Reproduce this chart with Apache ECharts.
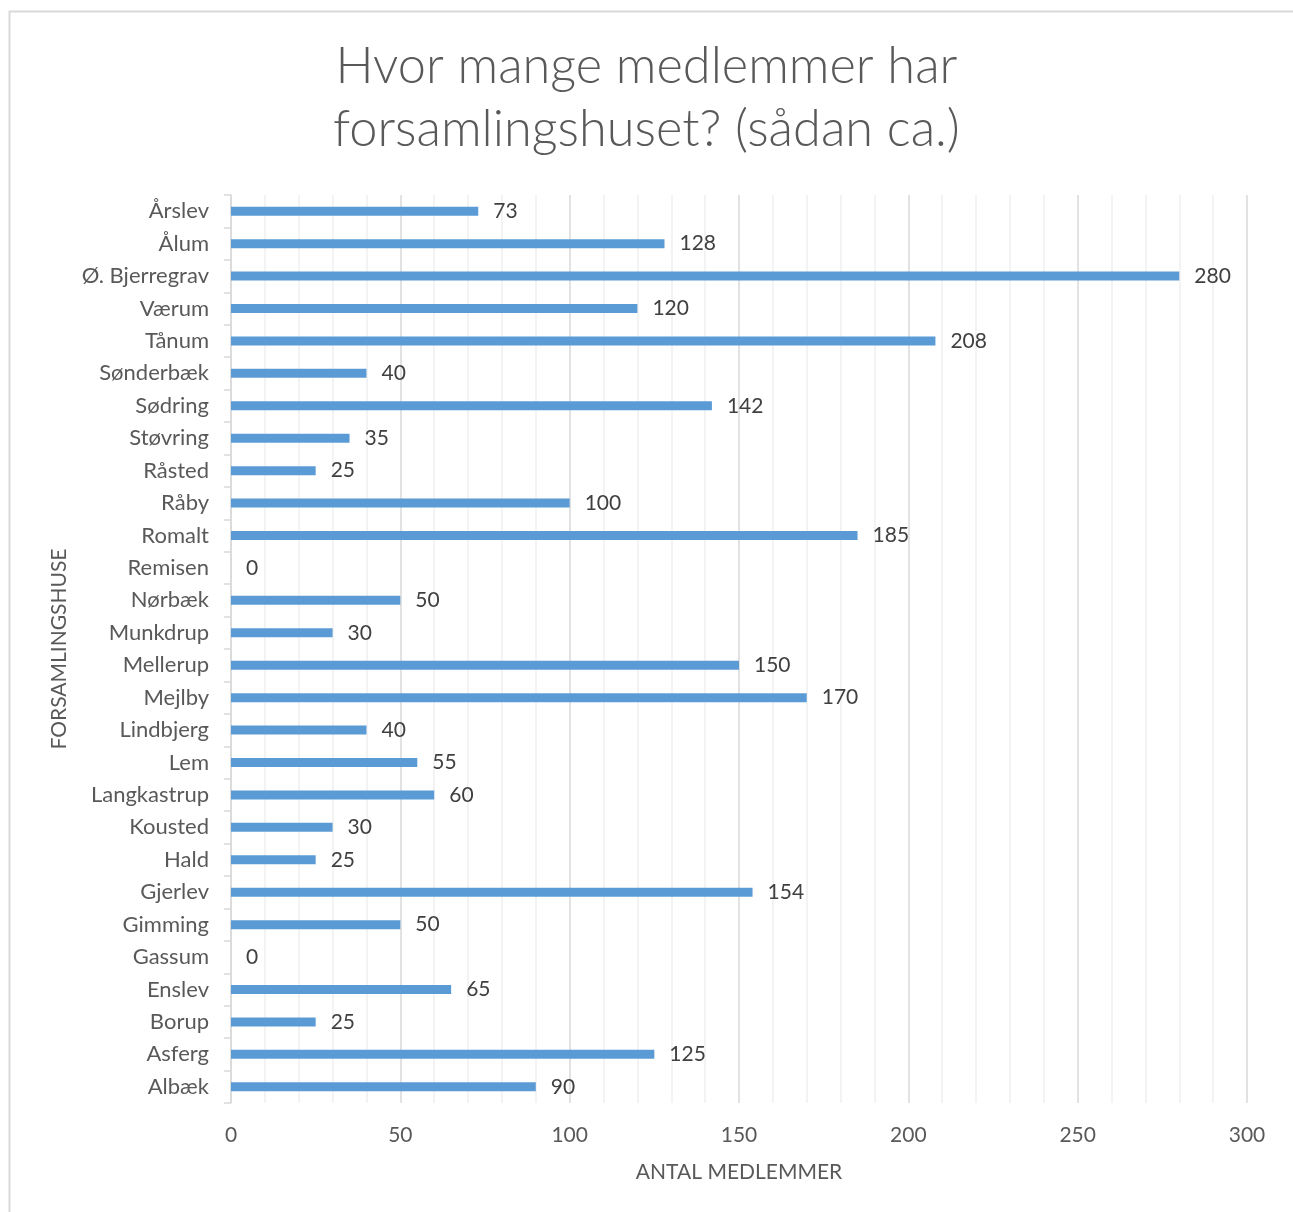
<!DOCTYPE html>
<html>
<head>
<meta charset="utf-8">
<script src="https://cdn.jsdelivr.net/npm/echarts@6/dist/echarts.min.js"></script>
<style>html,body{margin:0;padding:0;background:#fff;}#c{width:1293px;height:1212px;}</style>
</head>
<body>
<div id="c"></div>
<script>
const categories = ["Albæk","Asferg","Borup","Enslev","Gassum","Gimming","Gjerlev","Hald","Kousted","Langkastrup","Lem","Lindbjerg","Mejlby","Mellerup","Munkdrup","Nørbæk","Remisen","Romalt","Råby","Råsted","Støvring","Sødring","Sønderbæk","Tånum","Værum","Ø. Bjerregrav","Ålum","Årslev"];
const members = [90,125,25,65,0,50,154,25,30,60,55,40,170,150,30,50,0,185,100,25,35,142,40,208,120,280,128,73];
const titleText = "Hvor mange medlemmer har\nforsamlingshuset? (sådan ca.)";
const xAxisName = "ANTAL MEDLEMMER";
const yAxisName = "FORSAMLINGSHUSE";

const FONT = "Lato";
const TXT = "#595959";
const chart = echarts.init(document.getElementById('c'));
chart.setOption({
  animation: false,
  backgroundColor: '#fff',
  textStyle: {fontFamily: FONT},
  graphic: [{
    type: 'rect', silent: true,
    shape: {x: 9.5, y: 11.5, width: 3000, height: 3000},
    style: {fill: 'none', stroke: '#D9D9D9', lineWidth: 2}
  }],
  title: {
    text: titleText,
    left: 'center', top: 30,
    textStyle: {fontFamily: FONT, fontSize: 50.5, fontWeight: 300, color: TXT, lineHeight: 63}
  },
  grid: {left: 231, right: 46, top: 195, bottom: 109, containLabel: false},
  xAxis: {
    type: 'value', min: 0, max: 300, interval: 50,
    name: xAxisName, nameLocation: 'middle', nameGap: 59,
    nameTextStyle: {fontFamily: FONT, fontSize: 21, color: TXT},
    axisLine: {show: false}, axisTick: {show: false},
    axisLabel: {fontFamily: FONT, fontSize: 21, color: TXT, margin: 22},
    splitLine: {show: true, lineStyle: {color: '#D9D9D9', width: 1.5}},
    minorTick: {show: false, splitNumber: 5},
    minorSplitLine: {show: true, lineStyle: {color: '#F0F0F0', width: 1.5}}
  },
  yAxis: {
    type: 'category', data: categories,
    name: yAxisName, nameLocation: 'middle', nameGap: 161, nameRotate: 90,
    nameTextStyle: {fontFamily: FONT, fontSize: 21, color: TXT},
    axisLine: {show: true, lineStyle: {color: '#D9D9D9', width: 1.5}},
    axisTick: {show: true, length: 7, lineStyle: {color: '#D9D9D9', width: 1.5}},
    axisLabel: {fontFamily: FONT, fontSize: 22, color: TXT, margin: 22},
    splitLine: {show: false}
  },
  series: [{
    type: 'bar', data: members, barWidth: 9,
    itemStyle: {color: '#5B9BD5'},
    label: {show: true, position: 'right', distance: 15, fontFamily: FONT, fontSize: 21, color: '#404040'}
  }]
});
</script>
</body>
</html>
